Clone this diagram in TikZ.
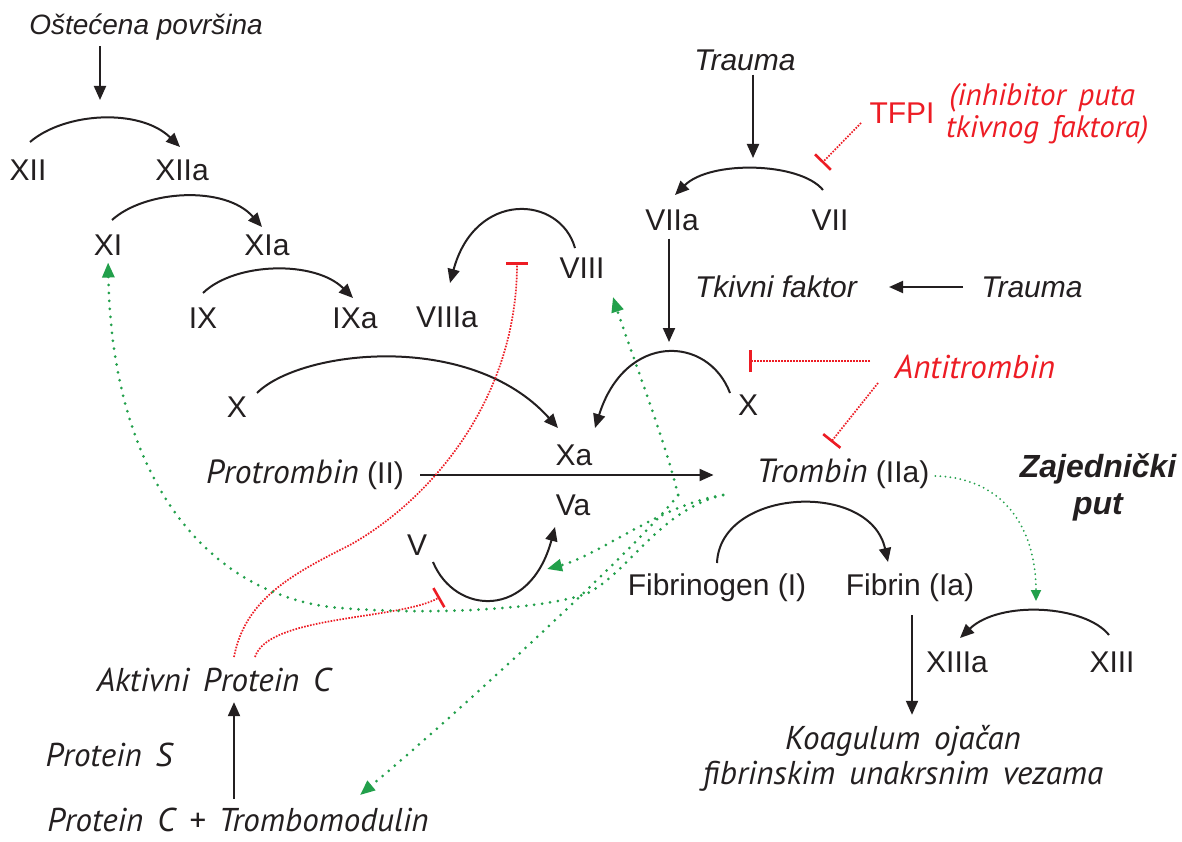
\documentclass[tikz,border=0pt]{standalone}
\usepackage{fontspec}
\setmainfont{Liberation Sans}
\newfontfamily\humfont{PT Sans}
\usetikzlibrary{arrows.meta}
\definecolor{ink}{HTML}{231F20}
\definecolor{fbgreen}{HTML}{22A04B}
\definecolor{inred}{HTML}{ED1C24}
\newcommand\wsp{\hspace{0.42em}}
\begin{document}
\begin{tikzpicture}[x=1pt,y=-1pt,
  lab/.style={font=\fontsize{30}{36}\selectfont, text=ink, inner sep=2pt},
  hlv/.style={font=\fontsize{30}{36}\selectfont\itshape, text=ink, inner sep=2pt},
  hum/.style={font=\humfont\fontsize{33}{35}\selectfont\itshape, text=ink, inner sep=2pt},
  arr/.style={draw=ink, line width=2pt, -{Triangle[length=14pt,width=12pt]}},
  fbpos/.style={draw=fbgreen, line width=3pt, line cap=round, dash pattern=on 0pt off 8pt, -{Triangle[length=15pt,width=12pt]}},
  fbthin/.style={draw=fbgreen, line width=2pt, line cap=round, dash pattern=on 0pt off 5pt, -{Triangle[length=11pt,width=10pt]}},
  inh/.style={draw=inred, line width=1.7pt, dash pattern=on 1.6pt off 1.4pt, -{Bar[width=22pt,line width=2.6pt]}}
]
\useasboundingbox[fill=white] (0,0) rectangle (1182,842);

% ---- nodes
\node[hlv, font=\fontsize{28}{34}\selectfont\itshape] (ost) at (146,27) {Oštećena površina};
\node[lab] (XII) at (28,170) {XII};
\node[lab] (XIIa) at (182,170) {XIIa};
\node[lab] (XI) at (108,245) {XI};
\node[lab] (XIa) at (267,245) {XIa};
\node[lab] (IX) at (203,318) {IX};
\node[lab] (IXa) at (355,318) {IXa};
\node[lab] (VIIIa) at (447,317) {VIIIa};
\node[lab] (VIII) at (582,268) {VIII};
\node[lab] (XL) at (237,407) {X};
\node[lab] (Xa) at (574,455) {Xa};
\node[lab] (Va) at (573,505) {Va};
\node[lab] (V) at (417,545) {V};
\node[lab] (Pro) at (305,475) {{\humfont\itshape\fontsize{33.5}{36}\selectfont Protrombin} (II)};
\node[hlv] (Tr1) at (745,60) {Trauma};
\node[lab, text=inred] (TFPI) at (902,113) {TFPI};
\node[hum, font=\humfont\fontsize{31}{32}\selectfont\itshape, text=inred, align=left, anchor=west] (inhib) at (944,114) {\hspace{0.1em}(inhibitor\wsp puta\\tkivnog\wsp faktora)};
\node[lab] (VIIa) at (672,220) {VIIa};
\node[lab] (VII) at (830,220) {VII};
\node[hlv] (TF) at (776,287) {Tkivni faktor};
\node[hlv] (Tr2) at (1032,287) {Trauma};
\node[hum] (AT) at (975,367) {\textcolor{inred}{Antitrombin}};
\node[lab] (XR) at (748,405) {X};
\node[lab] (Trb) at (843,474) {{\humfont\itshape\fontsize{33.5}{36}\selectfont Trombin} (IIa)};
\node[font=\fontsize{32}{37}\selectfont\bfseries\itshape, text=ink, align=center] (Zaj) at (1098,487) {Zajednički\\put};
\node[lab] (Fbg) at (717,588) {Fibrinogen (I)};
\node[lab] (Fbn) at (910,588) {Fibrin (Ia)};
\node[lab] (XIIIa) at (957,662) {XIIIa};
\node[lab] (XIII) at (1112,662) {XIII};
\node[hum, align=center] (Koag) at (903,758) {Koagulum\wsp ojačan\\fibrinskim\wsp unakrsnim\wsp vezama};
\node[hum] (APC) at (214,680) {Aktivni\wsp Protein\wsp C};
\node[hum] (PS) at (109,755) {Protein\wsp S};
\node[hum, inner sep=0pt] (PCTM) at (238,820) {Protein\wsp C\wsp +\wsp Trombomodulin};

% ---- helper coordinates (free ends)
\coordinate (c12) at (100,100);
\coordinate (cT1) at (753,158);
\coordinate (cVIIa) at (669,342);
\coordinate (ax) at (234,0);
\coordinate (fx) at (912,0);
\coordinate (bVIII) at (517,262);
\coordinate (bV) at (440,597);
\coordinate (bX) at (749,361);
\coordinate (bTrb) at (831,442);
\coordinate (bVII) at (822,163);
\coordinate (atX) at (870,361);
\coordinate (atT) at (878,383);
\coordinate (tf) at (861,123);
\coordinate (tgL) at (723,495);
\coordinate (tgM) at (678,495);
\coordinate (gVIII) at (613,297);
\coordinate (gVa) at (547,569);
\coordinate (gPC) at (360,795);
\coordinate (gXIII) at (1036,601);

% ---- black arrows
\draw[arr, shorten <=4pt] ([xshift=-46pt]ost.south) -- (c12);
\draw[arr] ([shift={(2,-28)}]XII.center) .. controls (65,112) and (140,108) .. ([shift={(-2,-23)}]XIIa.center);
\draw[arr] ([shift={(4,-25)}]XI.center) .. controls (145,190) and (225,185) .. ([shift={(-5,-18)}]XIa.center);
\draw[arr] ([shift={(0,-25)}]IX.center) .. controls (235,262) and (315,260) .. ([shift={(-2,-20)}]IXa.center);
\draw[arr] ([shift={(-7,-20)}]VIII.center) .. controls (560,195) and (475,190) .. ([shift={(3,-34)}]VIIIa.center);
\draw[arr] ([shift={(20,-14)}]XL.center) .. controls (300,350) and (470,330) .. ([shift={(-16,-27)}]Xa.center);
\draw[arr] ([shift={(-18,-12)}]XR.center) .. controls (708,335) and (625,332) .. ([shift={(21,-27)}]Xa.center);
\draw[arr] ([shift={(16,17)}]V.center) .. controls (455,615) and (530,620) .. ([shift={(-18,22)}]Va.center);
\draw[arr, shorten <=2pt] ([xshift=8pt]Tr1.south) -- (cT1);
\draw[arr] ([shift={(-7,-30)}]VII.center) .. controls (800,162) and (710,160) .. ([shift={(3,-25)}]VIIa.center);
\draw[arr, shorten <=6pt] (VIIa.south -| cVIIa) -- (cVIIa);
\draw[arr, shorten <=16pt, shorten >=30pt] (Tr2.west) -- (TF.east);
\draw[arr, shorten <=14pt, shorten >=41pt] (Pro.east) -- (Pro.east -| Trb.west);
\draw[arr] ([shift={(0,-25)}]Fbg.center) .. controls (720,488) and (870,480) .. ([shift={(-22,-26)}]Fbn.center);
\draw[arr] ([shift={(-3,-27)}]XIII.center) .. controls (1085,605) and (1000,600) .. ([shift={(3,-24)}]XIIIa.center);
\draw[arr, shorten <=11pt, shorten >=8pt] (Fbn.south -| fx) -- (Koag.north -| fx);
\draw[arr, shorten <=9pt, shorten >=8pt] (PCTM.north -| ax) -- (APC.south -| ax);

% ---- inhibition (red)
\draw[inh] ([shift={(20,-23)}]APC.center) .. controls (245,600) and (290,575) .. (350,545) .. controls (430,500) and (517,400) .. (bVIII);
\draw[inh] ([shift={(41,-23)}]APC.center) .. controls (268,615) and (400,620) .. (bV);
\draw[inh] (atX) -- (bX);
\draw[inh] (atT) -- (bTrb);
\draw[inh] (tf) -- (bVII);

% ---- positive feedback (green)
\draw[fbpos, shorten >=5pt] (tgL) .. controls (660,510) and (630,570) .. (590,592) .. controls (550,610) and (420,616) .. (330,607) .. controls (200,590) and (112,470) .. (XI.south);
\draw[fbpos] (tgL) .. controls (660,505) and (600,555) .. (gVa);
\draw[fbpos] (tgM) .. controls (665,440) and (630,350) .. (gVIII);
\draw[fbpos] (tgM) .. controls (640,545) and (450,720) .. (gPC);
\draw[fbthin] ([shift={(4,2)}]Trb.east) .. controls (1005,478) and (1036,530) .. (gXIII);
\end{tikzpicture}
\end{document}
